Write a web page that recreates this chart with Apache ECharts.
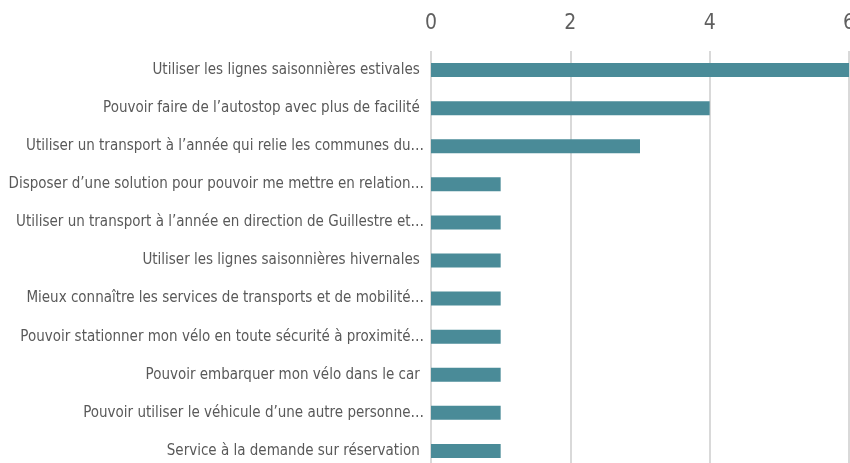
<!DOCTYPE html>
<html>
<head>
<meta charset="utf-8">
<script src="https://cdn.jsdelivr.net/npm/echarts@6/dist/echarts.min.js"></script>
<style>
  html, body { margin: 0; padding: 0; background: #fff; }
  #chart { width: 850px; height: 463px; }
</style>
</head>
<body>
<div id="chart"></div>
<script>
// categories, top to bottom
const categories = [
  'Utiliser les lignes saisonnières estivales ',
  'Pouvoir faire de l\u2019autostop avec plus de facilité ',
  'Utiliser un transport à l\u2019année qui relie les communes du…',
  'Disposer d\u2019une solution pour pouvoir me mettre en relation…',
  'Utiliser un transport à l\u2019année en direction de Guillestre et…',
  'Utiliser les lignes saisonnières hivernales ',
  'Mieux connaître les services de transports et de mobilité…',
  'Pouvoir stationner mon vélo en toute sécurité à proximité…',
  'Pouvoir embarquer mon vélo dans le car ',
  'Pouvoir utiliser le véhicule d\u2019une autre personne…',
  'Service à la demande sur réservation '
]
const values = [6, 4, 3, 1, 1, 1, 1, 1, 1, 1, 1]
const axisTicks = [0, 2, 4, 6]

const FONT = "'DejaVu Sans Condensed', 'Liberation Sans Narrow', 'Roboto Condensed', sans-serif"

const chart = echarts.init(document.getElementById('chart'))

chart.setOption({
  animation: false,
  grid: {
    left: 431,
    right: 1,
    top: 51,
    bottom: -7,
    containLabel: false,
    outerBoundsMode: 'none',
  },
  xAxis: {
    type: 'value',
    position: 'top',
    min: axisTicks[0],
    max: axisTicks[axisTicks.length - 1],
    interval: 2,
    axisLine: { show: false },
    axisTick: { show: false },
    axisLabel: {
      color: '#5f5f5f',
      fontFamily: FONT,
      fontSize: 21,
      margin: 17,
    },
    splitLine: { lineStyle: { color: '#d9d9d9', width: 2 } },
  },
  yAxis: {
    type: 'category',
    inverse: true,
    data: categories,
    axisLine: { show: false },
    axisTick: { show: false },
    axisLabel: {
      color: '#595959',
      fontFamily: FONT,
      fontSize: 15,
      margin: 7,
    },
  },
  series: [
    {
      type: 'bar',
      data: values,
      barWidth: 14,
      itemStyle: { color: '#4a8b98' },
    },
  ],
})
</script>
</body>
</html>
